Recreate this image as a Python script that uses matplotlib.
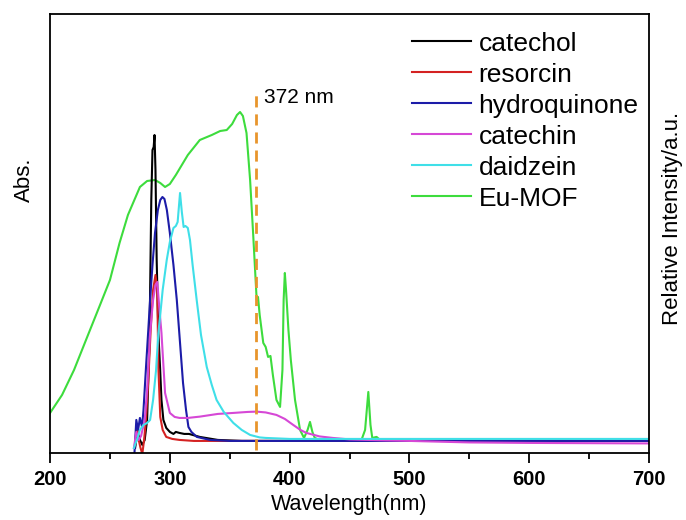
import numpy as np
import matplotlib
matplotlib.use("Agg")
import matplotlib.pyplot as plt

plt.rcParams['font.family'] = ['Liberation Sans', 'DejaVu Sans']

# wavelength (nm) / intensity (a.u.)
wl_cat = [271, 273, 275, 277, 279, 281, 283, 284.5, 285.5, 286.5, 287.2, 288, 289, 290.4, 291.8,
          293, 294.6, 297, 300, 303, 305, 308, 312, 316, 319, 325, 330, 340, 360, 700]
y_cat = [5, 21, 13, 8, 13, 33, 113, 253, 303, 306, 318, 283, 193, 120, 86,
         53, 33, 25, 21, 19, 21, 20, 19, 19, 18, 16, 15, 13, 12, 12]

wl_res = [271, 272.5, 274, 275.5, 277, 278.5, 280, 282, 284, 286, 288, 289.5, 290.4, 292,
          294, 297, 302, 308, 320, 700]
y_res = [8, 28, 13, 5, -1, 13, 33, 73, 123, 163, 178, 163, 86, 36,
         23, 16, 14, 13, 12, 12]

wl_hyd = [270.5, 272, 273.5, 275, 276.8, 278, 280.1, 282, 283.5, 285.5, 287.6, 290, 292, 293.8,
          295.5, 297.5, 300, 303, 305.8, 308.5, 311, 313.5, 315.5, 318, 322.5, 328, 333.6, 350, 700]
y_hyd = [1, 33, 23, 35, 26, 43, 86, 123, 153, 188, 220, 243, 253, 256,
         254, 243, 220, 188, 153, 110, 70, 43, 26, 21, 16, 14.5, 13, 12, 12]

wl_cte = [270, 272, 274, 276, 279, 281, 283.5, 286, 288, 289.5, 291, 293, 296, 300, 304, 308,
          315, 325, 340, 353, 365, 372.5, 380, 389, 396, 403, 409, 414, 425, 436, 450, 480,
          500, 550, 600, 700]
y_cte = [5, 21, 13, 17, 33, 63, 120, 153, 168, 171, 148, 120, 60, 40, 36, 35,
         35, 36.3, 39, 40, 41, 41.3, 40.5, 38, 34, 28, 23, 20, 16.5, 15, 13.5, 12.5,
         12, 10.5, 10, 9.5]

wl_dai = [270, 273, 275, 278, 281, 283.5, 286, 288.5, 290.4, 291.8, 294, 297.4, 300, 303, 305,
          306.5, 308.5, 310, 311.5, 313, 315, 316.8, 319, 322.4, 326, 330.8, 335, 339, 345,
          353, 360, 367, 375, 380, 400, 700]
y_dai = [5, 15, 23, 28, 30, 33, 53, 83, 120, 136, 163, 193, 211, 225, 227,
         231, 260, 241, 226, 227, 225, 213, 188, 153, 118, 86, 68, 53, 41,
         30, 23, 18, 15.5, 15, 14, 14]

wl_mof = [200, 210, 220, 230, 241.7, 250, 258, 265, 275, 281, 287.6, 292, 296, 300, 305, 315,
          325, 335, 342, 347.5, 352, 356, 358.6, 361, 364, 367, 369.5, 372.5, 373.6, 375, 378,
          380, 382, 384, 386, 389, 392, 394, 395, 396, 397, 399, 401, 404.5, 408.7, 412, 415,
          417, 419, 421, 425, 440, 460, 463, 465.7, 467.5, 469, 472.6, 475, 500]
y_mof = [40, 58, 83, 113, 148, 173, 210, 238, 266, 272, 273, 270, 266, 269, 278, 298,
         313, 318, 322, 323, 329, 338, 341, 337, 320, 273, 220, 153, 156, 138, 110,
         106, 96, 97, 78, 53, 46, 83, 153, 180, 163, 123, 93, 53, 23, 15, 23,
         31, 21, 15, 13, 12.5, 13, 23, 61, 28, 15, 16, 13.5, 13]

labels = ["catechol", "resorcin", "hydroquinone", "catechin", "daidzein", "Eu-MOF"]
colors = ["#000000", "#d42222", "#1c1ca8", "#d648d6", "#3fdfe8", "#3ddc3d"]
excitation = 372

fig = plt.figure(figsize=(6.86, 5.2), dpi=100)
ax = fig.add_axes([0.073, 0.129, 0.873, 0.844])

series = [(wl_cat, y_cat), (wl_res, y_res), (wl_hyd, y_hyd),
          (wl_cte, y_cte), (wl_dai, y_dai), (wl_mof, y_mof)]
for i, (x, y) in enumerate(series):
    z = 1 if labels[i] == "Eu-MOF" else 2 + i * 0.1
    ax.plot(x, y, color=colors[i], lw=1.5, label=labels[i], zorder=z)

ax.plot([excitation, excitation], [3, 361], color="#e8952c", lw=2, dashes=(4, 2.5), zorder=3)
ax.text(excitation + 7, 356, "372 nm", fontsize=15, va="center", ha="left")

ax.set_xlim(200, 700)
ax.set_ylim(0, 439)
ax.set_xticks([200, 300, 400, 500, 600, 700])
ax.set_xticks(np.arange(250, 700, 100), minor=True)
ax.set_yticks([])
ax.tick_params(axis="x", which="major", direction="out", length=7, width=1.3, labelsize=14.5, pad=5)
ax.tick_params(axis="x", which="minor", direction="out", length=4, width=1.3)
for lab in ax.get_xticklabels():
    lab.set_fontweight("bold")
for s in ax.spines.values():
    s.set_linewidth(1.3)

ax.set_xlabel("Wavelength(nm)", fontsize=15.5, labelpad=4)
fig.text(0.035, 0.655, "Abs.", rotation=90, fontsize=16, ha="center", va="center")
fig.text(0.98, 0.58, "Relative Intensity/a.u.", rotation=90, fontsize=16, ha="center", va="center")

ax.legend(loc="upper left", bbox_to_anchor=(0.604, 0.96), frameon=False, fontsize=19,
          handlelength=2.23, handletextpad=0.3, labelspacing=0.265, borderaxespad=0, borderpad=0)

fig.savefig("out.png", dpi=100)
